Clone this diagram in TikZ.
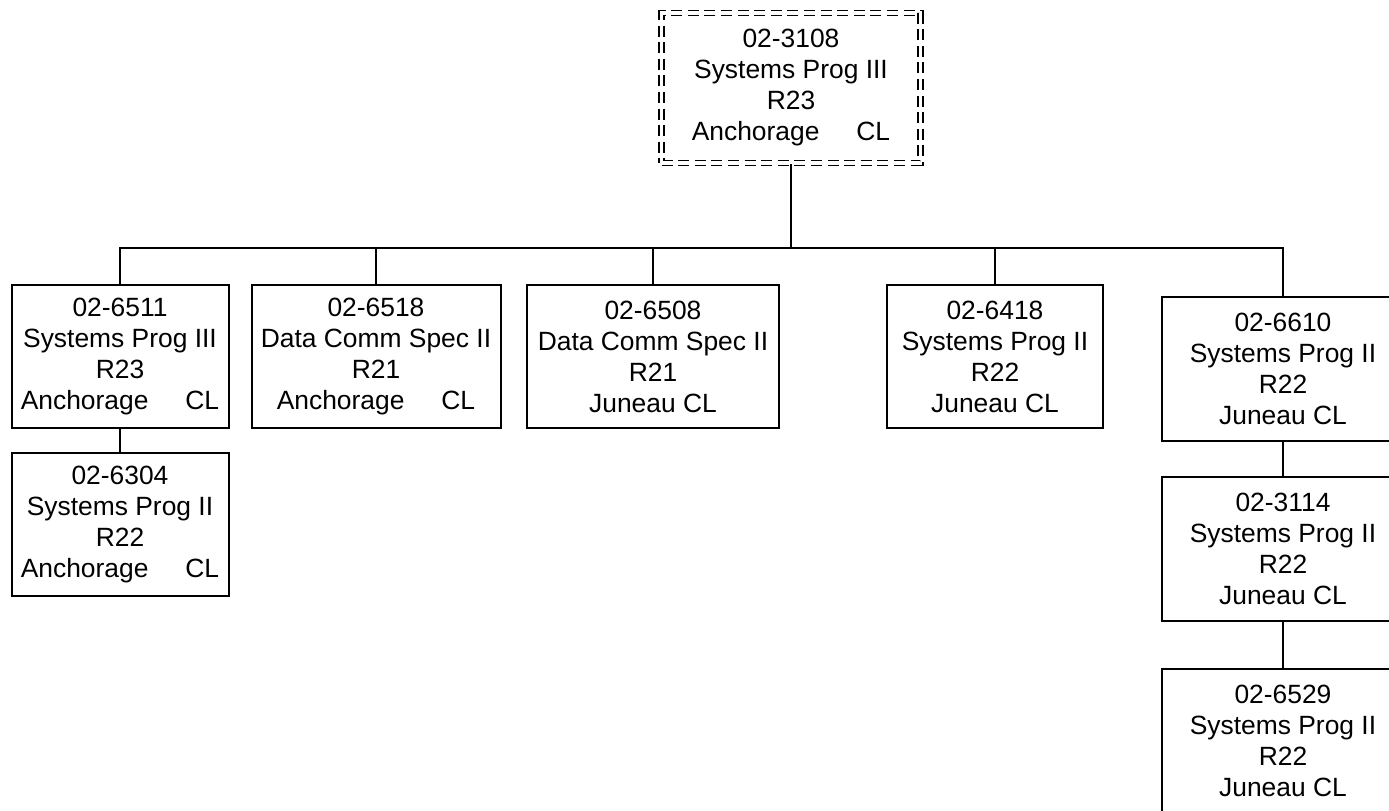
\documentclass[tikz,border=0pt]{standalone}
\usepackage{fontspec}
\setmainfont{Liberation Sans}
\usepackage{tikz}

\begin{document}
\begin{tikzpicture}[x=0.5pt,y=-0.5pt,
	box/.style={draw, line width=1pt, rectangle, align=center, inner sep=0pt,
		minimum height=71.5pt, font=\fontsize{13.2}{15.5}\selectfont},
	rootbox/.style={box, dashed, dash pattern=on 5.5pt off 2.8pt, double, double distance=1.6pt,
		line width=0.9pt, minimum width=129.5pt, minimum height=75pt},
	link/.style={draw, line width=1pt}]
	\useasboundingbox (0,0) rectangle (1389,810);

	\node (root) [rootbox] at (791,88) {02-3108\\Systems Prog III\\R23\\Anchorage\hspace{1.4em}CL};
	\coordinate (bus) at (791,248);

	\node (s1) [box, minimum width=108.5pt] at (120,356.5) {02-6511\\Systems Prog III\\R23\\Anchorage\hspace{1.4em}CL};
	\node (s2) [box, minimum width=124.5pt] at (376,356.5) {02-6518\\Data Comm Spec II\\R21\\Anchorage\hspace{1.4em}CL};
	\node (s3) [box, minimum width=126pt] at (653,356.5) {02-6508\\Data Comm Spec II\\R21\\Juneau CL};
	\node (s4) [box, minimum width=108pt] at (995,356.5) {02-6418\\Systems Prog II\\R22\\Juneau CL};
	\node (s5) [box, minimum width=121pt, minimum height=72pt] at (1283,369) {02-6610\\Systems Prog II\\R22\\Juneau CL};

	\node (s1a) [box, minimum width=108.5pt] at (120,524.5) {02-6304\\Systems Prog II\\R22\\Anchorage\hspace{1.4em}CL};
	\node (s5a) [box, minimum width=121pt, minimum height=72pt] at (1283,549) {02-3114\\Systems Prog II\\R22\\Juneau CL};
	\node (s5b) [box, minimum width=121pt, minimum height=72pt] at (1283,741) {02-6529\\Systems Prog II\\R22\\Juneau CL};

	\draw [link] (root.south) -- (bus);
	\draw [link] (bus) -| (s1.north);
	\draw [link] (bus) -| (s2.north);
	\draw [link] (bus) -| (s3.north);
	\draw [link] (bus) -| (s4.north);
	\draw [link] (bus) -| (s5.north);
	\draw [link] (s1.south) -- (s1a.north);
	\draw [link] (s5.south) -- (s5a.north);
	\draw [link] (s5a.south) -- (s5b.north);
\end{tikzpicture}
\end{document}
